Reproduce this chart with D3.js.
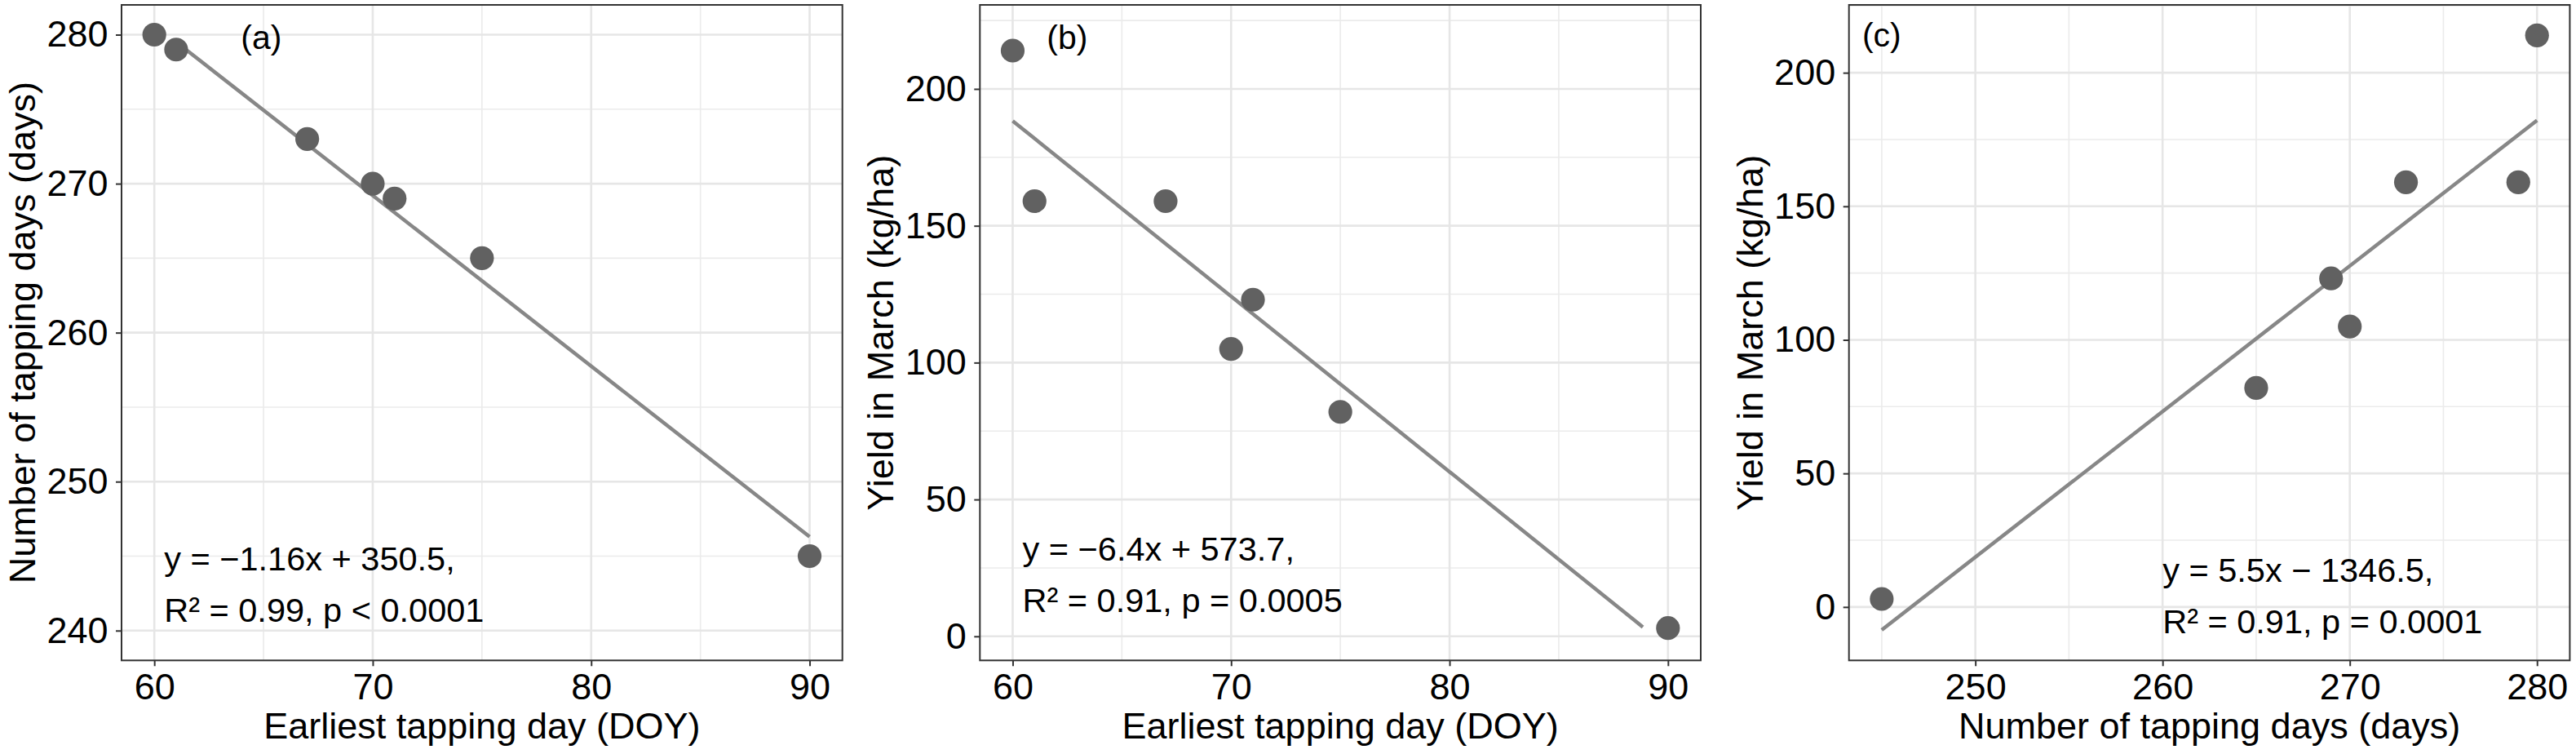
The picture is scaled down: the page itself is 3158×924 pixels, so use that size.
<!DOCTYPE html>
<html>
<head>
<meta charset="utf-8">
<script src="https://cdn.jsdelivr.net/npm/d3@7"></script>
<style>
  html, body { margin: 0; padding: 0; background: #ffffff; }
  svg { display: block; }
  text { font-family: "Liberation Sans", Arial, Helvetica, sans-serif; }
</style>
</head>
<body>
<svg id="chart" width="3158" height="924"></svg>
<script>
// ---------- data ----------
const earliestDay  = [60, 61, 67, 70, 71, 75, 90];        // DOY
const tappingDays  = [280, 279, 273, 270, 269, 265, 245]; // days
const yieldMarch   = [214, 159, 159, 105, 123, 82, 3];    // kg/ha

// fitted regression lines (end points)
const fitA = [[61.1, 279.4], [90, 246.3]];
const fitB = [[60, 188.3], [88.85, 3.4]];
const fitC = [[245, -8.6], [280, 182.2]];

// tick labels
const ticksDOY   = [60, 70, 80, 90];
const minorDOY   = [65, 75, 85];
const ticksDays  = [240, 250, 260, 270, 280];
const minorDays  = [245, 255, 265, 275];
const ticksYield = [0, 50, 100, 150, 200];
const minorYield = [25, 75, 125, 175, 225];
const ticksNDays = [250, 260, 270, 280];
const minorNDays = [245, 255, 265, 275];

// annotation texts
const eqA = ["y = \u22121.16x + 350.5,", "R\u00B2 = 0.99, p < 0.0001"];
const eqB = ["y = \u22126.4x + 573.7,",  "R\u00B2 = 0.91, p = 0.0005"];
const eqC = ["y = 5.5x \u2212 1346.5,",  "R\u00B2 = 0.91, p = 0.0001"];

// ---------- layout ----------
const TOP = 6, BOTTOM = 809.3;
const panels = [
  { left: 149,    right: 1032.7, xDomain: [58.5, 91.5],     yDomain: [238, 282],
    xT: ticksDOY, xM: minorDOY, yT: ticksDays, yM: minorDays,
    xs: earliestDay, ys: tappingDays, fit: fitA,
    label: "(a)", labelX: 64.9, labelBase: 60,
    eq: eqA, eqX: 60.45, eqBase: 699,
    xTitle: "Earliest tapping day (DOY)", yTitle: "Number of tapping days (days)" },
  { left: 1201.3, right: 2085,   xDomain: [58.5, 91.5],     yDomain: [-8.8, 230.7],
    xT: ticksDOY, xM: minorDOY, yT: ticksYield, yM: minorYield,
    xs: earliestDay, ys: yieldMarch, fit: fitB,
    label: "(b)", labelX: 62.5, labelBase: 60,
    eq: eqB, eqX: 60.45, eqBase: 687,
    xTitle: "Earliest tapping day (DOY)", yTitle: "Yield in March (kg/ha)" },
  { left: 2266.7, right: 3150.4, xDomain: [243.25, 281.75], yDomain: [-20, 225.4],
    xT: ticksNDays, xM: minorNDays, yT: ticksYield, yM: minorYield,
    xs: tappingDays, ys: yieldMarch, fit: fitC,
    label: "(c)", labelX: 245, labelBase: 57,
    eq: eqC, eqX: 260, eqBase: 713,
    xTitle: "Number of tapping days (days)", yTitle: "Yield in March (kg/ha)" }
];

const svg = d3.select("#chart");
svg.append("rect").attr("width", 3158).attr("height", 924).attr("fill", "#ffffff");

panels.forEach(p => {
  const x = d3.scaleLinear().domain(p.xDomain).range([p.left, p.right]);
  const y = d3.scaleLinear().domain(p.yDomain).range([BOTTOM, TOP]);
  const g = svg.append("g");

  // minor grid
  g.selectAll(".vmin").data(p.xM).join("line")
    .attr("x1", d => x(d)).attr("x2", d => x(d)).attr("y1", TOP).attr("y2", BOTTOM)
    .attr("stroke", "#ebebeb").attr("stroke-width", 1.6);
  g.selectAll(".hmin").data(p.yM).join("line")
    .attr("y1", d => y(d)).attr("y2", d => y(d)).attr("x1", p.left).attr("x2", p.right)
    .attr("stroke", "#ebebeb").attr("stroke-width", 1.6);
  // major grid
  g.selectAll(".vmaj").data(p.xT).join("line")
    .attr("x1", d => x(d)).attr("x2", d => x(d)).attr("y1", TOP).attr("y2", BOTTOM)
    .attr("stroke", "#e6e6e6").attr("stroke-width", 2.6);
  g.selectAll(".hmaj").data(p.yT).join("line")
    .attr("y1", d => y(d)).attr("y2", d => y(d)).attr("x1", p.left).attr("x2", p.right)
    .attr("stroke", "#e6e6e6").attr("stroke-width", 2.6);

  // regression line
  g.append("path")
    .datum(p.fit)
    .attr("d", d3.line().x(d => x(d[0])).y(d => y(d[1])))
    .attr("fill", "none").attr("stroke", "#878787").attr("stroke-width", 4.5);

  // points
  g.selectAll(".pt").data(p.xs.map((v, i) => [v, p.ys[i]])).join("circle")
    .attr("cx", d => x(d[0])).attr("cy", d => y(d[1])).attr("r", 14.6)
    .attr("fill", "#616161");

  // panel border
  g.append("rect")
    .attr("x", p.left).attr("y", TOP).attr("width", p.right - p.left).attr("height", BOTTOM - TOP)
    .attr("fill", "none").attr("stroke", "#333333").attr("stroke-width", 2);

  // axes
  const ax = g.append("g").attr("transform", `translate(0,${BOTTOM})`)
    .call(d3.axisBottom(x).tickValues(p.xT).tickFormat(d3.format("d")).tickSize(7).tickPadding(8.4));
  const ay = g.append("g").attr("transform", `translate(${p.left},0)`)
    .call(d3.axisLeft(y).tickValues(p.yT).tickFormat(d3.format("d")).tickSize(7).tickPadding(9.5));
  [ax, ay].forEach(a => {
    a.select(".domain").remove();
    a.selectAll(".tick line").attr("stroke", "#333333").attr("stroke-width", 2);
    a.selectAll(".tick text").attr("fill", "#000000").style("font-size", "45px")
      .style("font-family", "'Liberation Sans', Arial, sans-serif");
  });

  // axis titles
  g.append("text")
    .attr("x", (p.left + p.right) / 2).attr("y", BOTTOM + 95.7)
    .attr("text-anchor", "middle").style("font-size", "45px").attr("fill", "#000")
    .text(p.xTitle);
  g.append("text")
    .attr("transform", `translate(${p.left - 106},${(TOP + BOTTOM) / 2}) rotate(-90)`)
    .attr("text-anchor", "middle").style("font-size", "45px").attr("fill", "#000")
    .text(p.yTitle);

  // panel label
  g.append("text")
    .attr("x", x(p.labelX)).attr("y", p.labelBase)
    .attr("text-anchor", "middle").style("font-size", "41px").attr("fill", "#000")
    .text(p.label);

  // equation annotation
  g.selectAll(".eq").data(p.eq).join("text")
    .attr("x", x(p.eqX)).attr("y", (d, i) => p.eqBase + i * 63.2)
    .attr("text-anchor", "start").style("font-size", "41.5px").attr("fill", "#000")
    .text(d => d);
});
</script>
</body>
</html>
